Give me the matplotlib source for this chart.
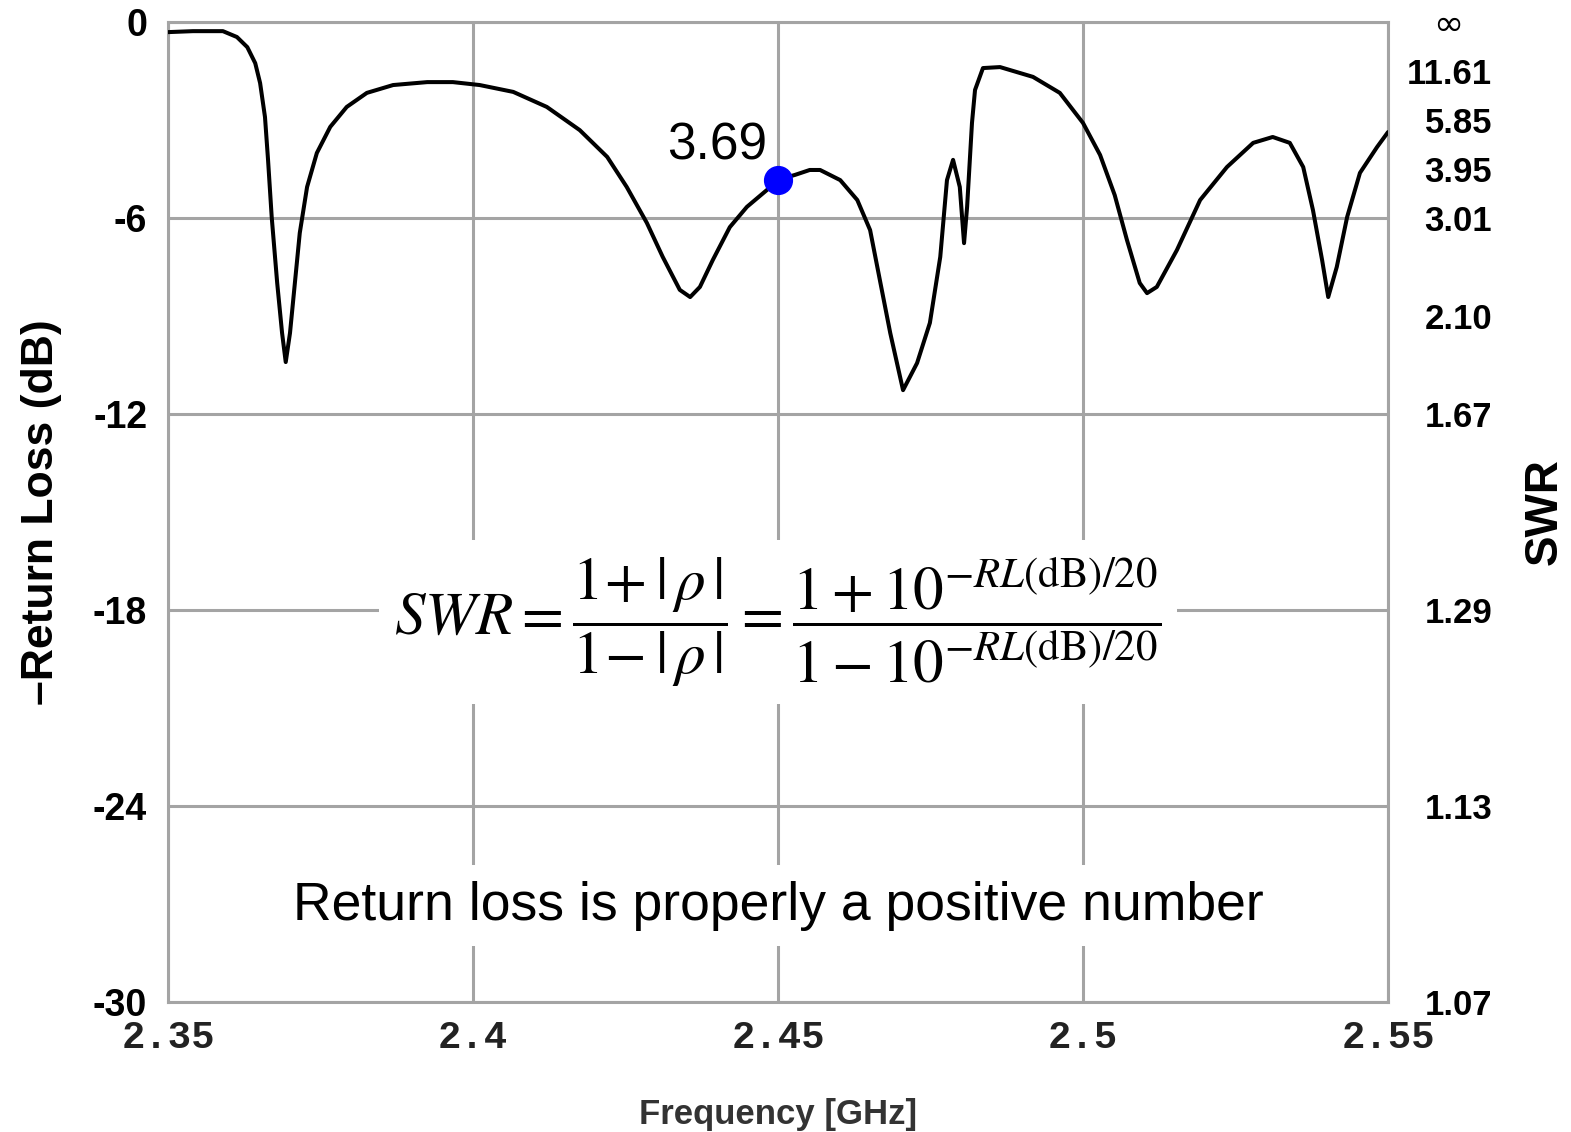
import numpy as np
import matplotlib
matplotlib.use("Agg")
import matplotlib.pyplot as plt

plt.rcParams['font.family'] = ['Liberation Sans', 'DejaVu Sans']
plt.rcParams['mathtext.fontset'] = 'stix'

# measured return loss trace (GHz, dB)
freq = [2.3500, 2.3541, 2.3590, 2.3613, 2.3630, 2.3643, 2.3651, 2.3659, 2.3664, 2.3670,
        2.3679, 2.3687, 2.3693, 2.3700, 2.3708, 2.3716, 2.3728, 2.3744, 2.3766, 2.3793,
        2.3826, 2.3869, 2.3925, 2.3967, 2.4011, 2.4066, 2.4121, 2.4175, 2.4220, 2.4252,
        2.4285, 2.4311, 2.4339, 2.4356, 2.4372, 2.4393, 2.4421, 2.4449, 2.4482, 2.4500,
        2.4528, 2.4552, 2.4569, 2.4602, 2.4630, 2.4651, 2.4667, 2.4684, 2.4705, 2.4728,
        2.4749, 2.4766, 2.4777, 2.4787, 2.4798, 2.4805, 2.4810, 2.4818, 2.4823, 2.4836,
        2.4864, 2.4918, 2.4962, 2.5000, 2.5028, 2.5052, 2.5072, 2.5093, 2.5105, 2.5121,
        2.5154, 2.5192, 2.5236, 2.5279, 2.5311, 2.5339, 2.5361, 2.5377, 2.5392, 2.5402,
        2.5416, 2.5433, 2.5454, 2.5482, 2.5500]
rl = [-0.31, -0.28, -0.28, -0.46, -0.77, -1.26, -1.87, -2.91, -4.22, -5.97,
      -7.99, -9.52, -10.41, -9.52, -7.99, -6.46, -5.05, -4.01, -3.21, -2.60,
      -2.17, -1.93, -1.84, -1.84, -1.93, -2.14, -2.60, -3.31, -4.13, -5.05,
      -6.15, -7.19, -8.20, -8.42, -8.11, -7.29, -6.28, -5.66, -5.14, -4.83,
      -4.68, -4.53, -4.53, -4.84, -5.45, -6.37, -7.90, -9.52, -11.27, -10.44,
      -9.21, -7.19, -4.84, -4.22, -5.05, -6.77, -5.66, -3.09, -2.08, -1.41,
      -1.38, -1.68, -2.17, -3.09, -4.07, -5.30, -6.67, -7.99, -8.30, -8.11,
      -6.98, -5.45, -4.44, -3.70, -3.52, -3.70, -4.44, -5.76, -7.29, -8.42,
      -7.50, -5.97, -4.62, -3.83, -3.37]

x_ticks = [2.35, 2.4, 2.45, 2.5, 2.55]
x_labels = ['2.35', '2.4', '2.45', '2.5', '2.55']
db_ticks = [0, -6, -12, -18, -24, -30]
swr_ticks = [-1.5, -3, -4.5, -6, -9, -12, -18, -24, -30]
swr_labels = ['11.61', '5.85', '3.95', '3.01', '2.10', '1.67', '1.29', '1.13', '1.07']

mark_f = 2.45
mark_swr = 3.69
mark_db = -20 * np.log10((mark_swr + 1) / (mark_swr - 1))

fig = plt.figure(figsize=(15.71, 11.32), dpi=100)
ax = fig.add_axes([168 / 1571, 1 - 1002 / 1132, 1220 / 1571, 980 / 1132])

grid_col = '#a4a4a4'
ax.set_axisbelow(True)
ax.grid(True, color=grid_col, linewidth=2.2)
for s in ax.spines.values():
    s.set_color(grid_col)
    s.set_linewidth(2.2)

ax.plot(freq, rl, color='black', linewidth=2.9, zorder=3,
        solid_joinstyle='round', solid_capstyle='round')
ax.plot([mark_f], [mark_db], 'o', color='#0000ff', markersize=20, zorder=4)
ax.annotate('%.2f' % mark_swr, (mark_f, mark_db), xytext=(-44, 24), textcoords='offset points',
            ha='center', va='center', fontsize=37, color='black')

ax.set_xlim(2.35, 2.55)
ax.set_ylim(-30, 0)
ax.set_xticks(x_ticks)
ax.set_xticklabels(x_labels, family='Liberation Mono', fontweight='bold', fontsize=28, color='#222222')
ax.set_yticks(db_ticks)
ax.set_yticklabels([str(v) for v in db_ticks], fontweight='bold', fontsize=27)
ax.tick_params(axis='both', length=0)
ax.tick_params(axis='x', pad=13)
ax.tick_params(axis='y', pad=15)
ax.set_xlabel('Frequency [GHz]', fontweight='bold', fontsize=25, color='#333333', labelpad=30)
ax.set_ylabel('\u2013Return Loss (dB)', fontweight='bold', fontsize=32, labelpad=22)

ax2 = ax.twinx()
ax2.set_ylim(-30, 0)
ax2.set_yticks(swr_ticks)
ax2.set_yticklabels(swr_labels, fontweight='bold', fontsize=25)
ax2.tick_params(axis='y', length=0, pad=75)
for lab in ax2.get_yticklabels():
    lab.set_horizontalalignment('right')
for s in ax2.spines.values():
    s.set_visible(False)
ax2.set_ylabel('SWR', fontweight='bold', fontsize=33, labelpad=22)
ax2.text(1.049, 0.997, '\u221e', transform=ax2.transAxes, ha='center', va='center',
         fontsize=26, family='DejaVu Sans')

formula = (r'$SWR=\dfrac{1\!+|\,\rho\,|}{1\!-|\,\rho\,|}='
           r'\dfrac{1+10^{-RL(\mathrm{dB})/20}}{1-10^{-RL(\mathrm{dB})/20}}$')
ax.text(2.45, -18.37, formula, ha='center', va='center', fontsize=44, zorder=5,
        bbox=dict(facecolor='white', edgecolor='none', pad=11))
ax.text(2.45, -27.05, 'Return loss is properly a positive number', ha='center', va='center',
        fontsize=38.5, zorder=5, bbox=dict(facecolor='white', edgecolor='none', pad=11))

fig.savefig('out.png', dpi=100, facecolor='white')
